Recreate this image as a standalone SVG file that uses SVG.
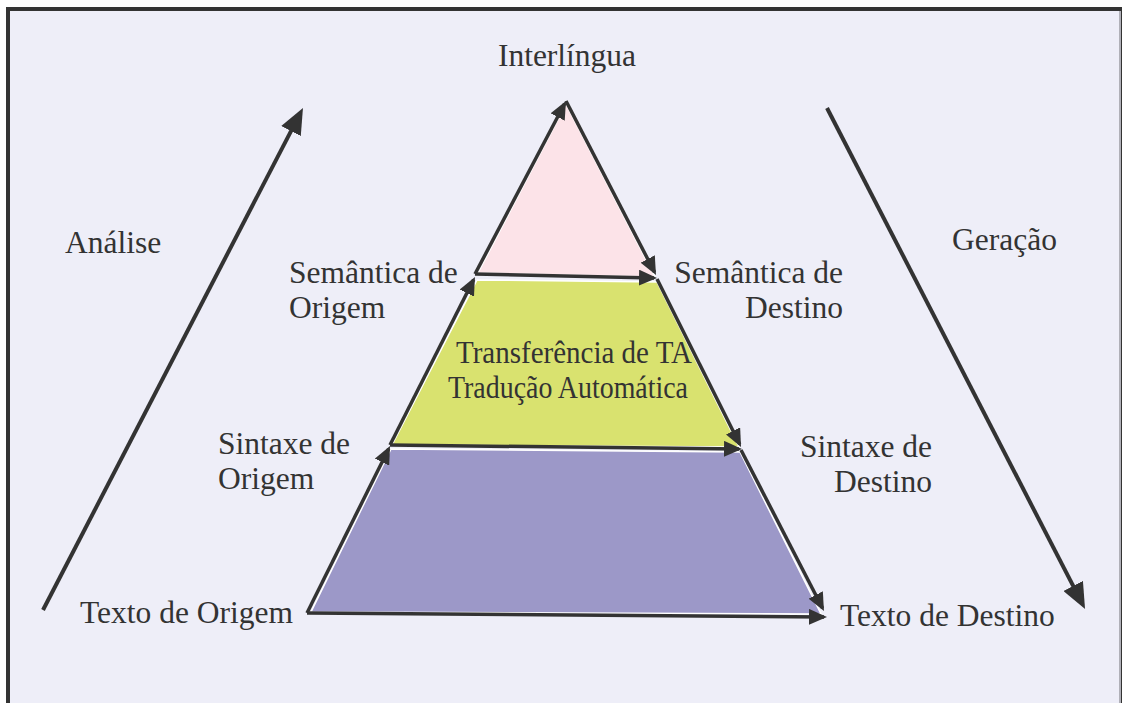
<svg xmlns="http://www.w3.org/2000/svg" width="1122" height="703" viewBox="0 0 1122 703">
<defs>
<style>
.lbl{font-family:"Liberation Serif","Times New Roman",serif;font-size:31.5px;fill:#333333}
.mid{text-anchor:middle}
.end{text-anchor:end}
.big{stroke:#333333;stroke-width:4;fill:none}
.edge{stroke:#333333;stroke-width:3.5;fill:none}
</style>
<marker id="bigHead" viewBox="0 0 26 22" refX="20" refY="11" markerWidth="26" markerHeight="22" orient="auto" markerUnits="userSpaceOnUse">
<path d="M0,0 L26,11 L0,22 z" fill="#333333"/>
</marker>
<marker id="smallHead" viewBox="0 0 18 16" refX="15" refY="8" markerWidth="18" markerHeight="16" orient="auto" markerUnits="userSpaceOnUse">
<path d="M0,0 L18,8 L0,16 z" fill="#333333"/>
</marker>
</defs>
<rect x="0" y="0" width="1122" height="703" fill="#ffffff"/>
<rect x="6" y="7" width="1116" height="696" fill="#333333"/>
<rect x="10" y="11" width="1110" height="692" fill="#EEEEF8"/>
<rect x="1119" y="11" width="2" height="692" fill="#B0B0B8"/>

<g id="fills">
<polygon id="layer-interlingua" points="566,104 478,273 655,277" fill="#FCE3E8" stroke="#ffffff" stroke-width="1.5"/>
<polygon id="layer-semantica" points="477,280 657,282 739,447 392,445" fill="#D9E26F" stroke="#ffffff" stroke-width="1.5"/>
<polygon id="layer-sintaxe" points="391,449 740,452 821,614 311,612" fill="#9C98C8" stroke="#ffffff" stroke-width="1.5"/>
</g>

<g id="connectors">
<line class="big" x1="43" y1="610" x2="300.2" y2="113.3" marker-end="url(#bigHead)"/>
<line class="big" x1="827" y1="108" x2="1082.3" y2="603.7" marker-end="url(#bigHead)"/>
<line class="edge" x1="307" y1="613" x2="388.7" y2="448.7" marker-end="url(#smallHead)"/>
<line class="edge" x1="390" y1="445" x2="473.6" y2="279.7" marker-end="url(#smallHead)"/>
<line class="edge" x1="475" y1="274" x2="564.6" y2="103.7" marker-end="url(#smallHead)"/>
<line class="edge" x1="566" y1="101" x2="654.6" y2="272.3" marker-end="url(#smallHead)"/>
<line class="edge" x1="657" y1="279" x2="739.7" y2="444.3" marker-end="url(#smallHead)"/>
<line class="edge" x1="741" y1="450" x2="822.6" y2="608.3" marker-end="url(#smallHead)"/>
<line class="edge" x1="475" y1="274" x2="654" y2="278" marker-end="url(#smallHead)"/>
<line class="edge" x1="390" y1="445" x2="739" y2="449" marker-end="url(#smallHead)"/>
<line class="edge" x1="307" y1="613" x2="824" y2="617" marker-end="url(#smallHead)"/>
</g>

<g id="interlingua"><text class="lbl mid" x="567" y="66">Interlíngua</text></g>
<g id="analise"><text class="lbl" x="65" y="253">Análise</text></g>
<g id="geracao"><text class="lbl" x="952" y="250">Geração</text></g>
<g id="semantica-origem"><text class="lbl" x="289" y="283">Semântica de</text><text class="lbl" x="289" y="318">Origem</text></g>
<g id="semantica-destino"><text class="lbl end" x="843" y="283">Semântica de</text><text class="lbl end" x="843" y="318">Destino</text></g>
<g id="transferencia"><text class="lbl mid" x="574" y="363" textLength="236" lengthAdjust="spacingAndGlyphs">Transferência de TA</text><text class="lbl mid" x="568" y="398" textLength="240" lengthAdjust="spacingAndGlyphs">Tradução Automática</text></g>
<g id="sintaxe-origem"><text class="lbl" x="218" y="454">Sintaxe de</text><text class="lbl" x="218" y="489">Origem</text></g>
<g id="sintaxe-destino"><text class="lbl end" x="932" y="457">Sintaxe de</text><text class="lbl end" x="932" y="492">Destino</text></g>
<g id="texto-origem"><text class="lbl" x="80" y="623">Texto de Origem</text></g>
<g id="texto-destino"><text class="lbl" x="840" y="626">Texto de Destino</text></g>
</svg>
